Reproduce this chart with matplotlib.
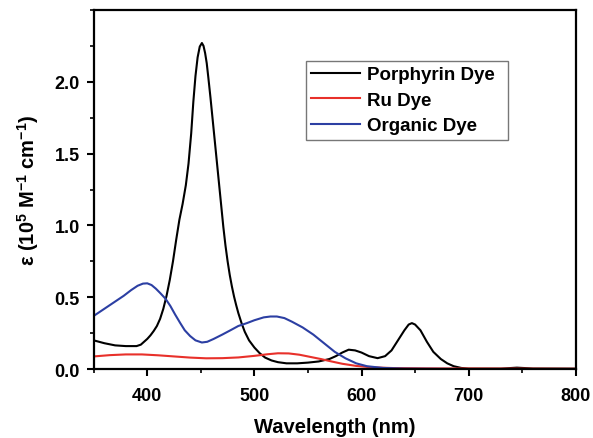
import numpy as np
import matplotlib
matplotlib.use("Agg")
import matplotlib.pyplot as plt
from matplotlib.ticker import MultipleLocator

plt.rcParams['font.family'] = ['Liberation Sans', 'DejaVu Sans']
plt.rcParams['font.weight'] = 'bold'
plt.rcParams['mathtext.fontset'] = 'custom'
plt.rcParams['mathtext.rm'] = 'Liberation Sans:bold'
plt.rcParams['mathtext.bf'] = 'Liberation Sans:bold'
plt.rcParams['mathtext.default'] = 'bf'

# Porphyrin dye
wl_por = [350, 360, 370, 380, 390, 394, 400, 403, 406, 409, 412, 415, 418,
          421, 424, 427, 430, 433, 436, 438.5, 441, 443, 445, 447, 449, 451,
          452.5, 454, 455.5, 457, 459, 461, 463, 465, 467, 469, 471, 473, 475,
          477, 479, 481, 483, 485, 488, 491, 495, 500, 505, 510, 516, 522, 530,
          540, 550, 560, 570, 576, 582, 588, 594, 600, 607, 615, 622, 628, 634,
          640, 644, 647, 650, 655, 661, 667, 674, 680, 686, 693, 700, 730, 745,
          760, 800]
eps_por = [0.20, 0.18, 0.165, 0.16, 0.16, 0.17, 0.21, 0.235, 0.265, 0.30,
           0.35, 0.42, 0.51, 0.62, 0.75, 0.90, 1.04, 1.15, 1.28, 1.43, 1.64,
           1.86, 2.04, 2.17, 2.245, 2.27, 2.25, 2.20, 2.13, 2.03, 1.89, 1.74,
           1.59, 1.44, 1.29, 1.14, 0.99, 0.86, 0.75, 0.655, 0.575, 0.505,
           0.445, 0.39, 0.32, 0.26, 0.20, 0.15, 0.11, 0.08, 0.06, 0.048, 0.04,
           0.04, 0.045, 0.053, 0.07, 0.09, 0.115, 0.135, 0.13, 0.115, 0.09,
           0.076, 0.09, 0.13, 0.2, 0.27, 0.31, 0.32, 0.31, 0.27, 0.19, 0.12,
           0.07, 0.04, 0.02, 0.008, 0.003, 0.003, 0.01, 0.004, 0.003]

# Ru dye
wl_ru = [350, 365, 380, 395, 410, 425, 440, 455, 470, 485, 500, 512, 522, 532,
         542, 552, 562, 572, 582, 595, 610, 630, 660, 700, 800]
eps_ru = [0.088, 0.097, 0.102, 0.102, 0.096, 0.088, 0.08, 0.075, 0.076, 0.081,
          0.092, 0.103, 0.11, 0.109, 0.1, 0.085, 0.07, 0.053, 0.037, 0.022,
          0.012, 0.007, 0.005, 0.004, 0.002]

# Organic dye
wl_org = [350, 360, 370, 378, 385, 391, 396, 400, 404, 408, 412, 417, 421.5,
          426, 430.8, 435, 440, 445, 451, 456, 462, 470, 477.6, 485, 493, 500,
          508.7, 515, 521, 528, 535, 545, 555, 565, 575, 585, 595, 605, 620,
          640, 700, 800]
eps_org = [0.37, 0.42, 0.47, 0.51, 0.55, 0.58, 0.595, 0.597, 0.585, 0.56, 0.53,
           0.49, 0.44, 0.38, 0.32, 0.27, 0.23, 0.2, 0.185, 0.19, 0.21, 0.24,
           0.27, 0.3, 0.32, 0.34, 0.36, 0.366, 0.366, 0.355, 0.33, 0.29, 0.24,
           0.18, 0.12, 0.075, 0.04, 0.02, 0.008, 0.003, 0.0, 0.0]

fig = plt.figure(figsize=(5.93, 4.39), dpi=100)
ax = fig.add_axes([0.158, 0.157, 0.813, 0.818])

ax.plot(wl_por, eps_por, color='black', lw=1.5, label='Porphyrin Dye')
ax.plot(wl_ru, eps_ru, color='#e8302a', lw=1.5, label='Ru Dye')
ax.plot(wl_org, eps_org, color='#2c3fa3', lw=1.5, label='Organic Dye')

ax.set_xlim(350, 800)
ax.set_ylim(0, 2.5)
ax.xaxis.set_major_locator(MultipleLocator(100))
ax.xaxis.set_minor_locator(MultipleLocator(50))
ax.set_yticks([0.0, 0.5, 1.0, 1.5, 2.0])
ax.yaxis.set_minor_locator(MultipleLocator(0.25))
ax.tick_params(which='major', direction='out', length=5, width=1.5, labelsize=13)
ax.tick_params(which='minor', direction='out', length=3, width=1.2)
ax.tick_params(axis='x', which='major', pad=8)
ax.tick_params(axis='y', which='major', pad=5)
for s in ax.spines.values():
    s.set_linewidth(1.6)

ax.set_xlabel('Wavelength (nm)', fontsize=14.5, fontweight='bold', labelpad=9)
ax.set_ylabel(r'ε (10$^{5}$ M$^{-1}$ cm$^{-1}$)', fontsize=14.5, fontweight='bold', labelpad=10)

# legend box spans px 306..508 horizontally
leg = ax.legend(loc='upper left', bbox_to_anchor=(0.44, 0.859, 0.419, 0.0),
                mode='expand', borderaxespad=0,
                fancybox=False, edgecolor='#555555',
                handlelength=2.6, handletextpad=0.35, labelspacing=0.45,
                borderpad=0.3, prop={'weight': 'bold', 'size': 13.5})
leg.get_frame().set_linewidth(1.0)

plt.savefig('out.png', dpi=100)
